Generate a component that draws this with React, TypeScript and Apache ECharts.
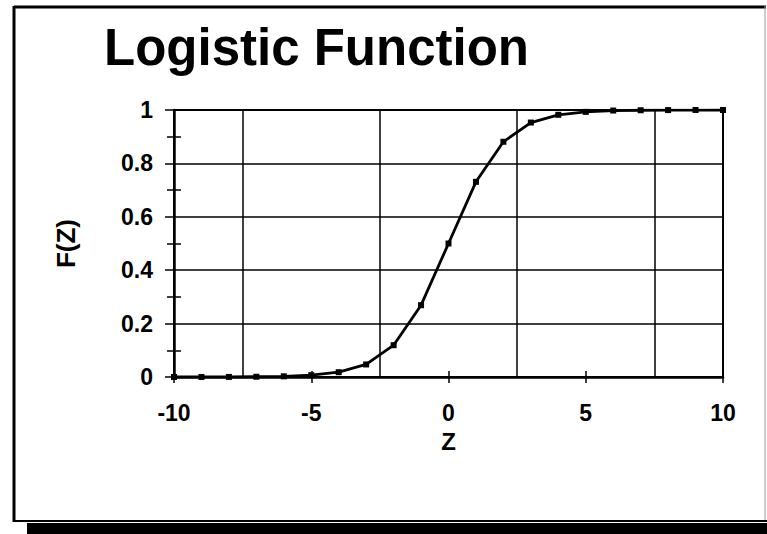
import React, { useEffect, useRef } from "react";
import * as echarts from "echarts";

const zValues = [-10, -9, -8, -7, -6, -5, -4, -3, -2, -1, 0, 1, 2, 3, 4, 5, 6, 7, 8, 9, 10];
const fValues = [0.00005, 0.0001, 0.0003, 0.0009, 0.0025, 0.0067, 0.018, 0.047, 0.119, 0.269, 0.5, 0.731, 0.881, 0.953, 0.982, 0.993, 0.998, 0.999, 0.9997, 0.9999, 1.0];
const titleText = "Logistic Function";
const xName = "Z";
const yName = "F(Z)";

const FONT = "'Liberation Sans', Arial, Helvetica, sans-serif";

export default function App() {
  const ref = useRef<HTMLDivElement>(null);
  useEffect(() => {
    if (!ref.current) return;
    const chart = echarts.init(ref.current, undefined, { renderer: "svg" });
    const data = zValues.map((z, i) => [z, fValues[i]]);
    const baseX = {
      type: "value",
      min: -10,
      max: 10,
      interval: 5,
      position: "bottom",
      axisLine: { onZero: false },
    };
    const baseY = {
      type: "value",
      min: 0,
      max: 1,
      interval: 0.2,
      position: "left",
      axisLine: { onZero: false },
    };
    chart.setOption({
      animation: false,
      backgroundColor: "#ffffff",
      grid: {
        left: 174,
        right: 44,
        top: 110,
        bottom: 157,
        show: true,
        borderColor: "#000",
        borderWidth: 2,
        containLabel: false,
      },
      graphic: [
        { type: "line", shape: { x1: 14, y1: 7, x2: 766, y2: 7 }, style: { stroke: "#000", lineWidth: 3 } },
        { type: "line", shape: { x1: 14, y1: 6, x2: 14, y2: 522 }, style: { stroke: "#000", lineWidth: 3 } },
        { type: "line", shape: { x1: 765, y1: 6, x2: 765, y2: 522 }, style: { stroke: "#999", lineWidth: 1 } },
        { type: "line", shape: { x1: 13, y1: 521, x2: 767, y2: 521 }, style: { stroke: "#000", lineWidth: 2 } },
        { type: "rect", shape: { x: 27, y: 523, width: 740, height: 11 }, style: { fill: "#000" } },
        {
          type: "text",
          left: 104,
          top: 22,
          style: { text: titleText, font: `bold 51px ${FONT}`, fill: "#000" },
        },
      ],
      xAxis: [
        {
          ...baseX,
          name: xName,
          nameLocation: "middle",
          nameGap: 52,
          nameTextStyle: { fontFamily: FONT, fontWeight: "bold", fontSize: 24, color: "#000" },
          axisLine: { onZero: false, lineStyle: { color: "#000", width: 2.5 } },
          axisTick: { show: true, length: 6, lineStyle: { color: "#000", width: 1.5 } },
          axisLabel: { margin: 24, fontFamily: FONT, fontWeight: "bold", fontSize: 23, color: "#000" },
          splitLine: { show: false },
          minorTick: { show: false, splitNumber: 2 },
          minorSplitLine: { show: true, lineStyle: { color: "#000", width: 1.5 } },
        },
        {
          ...baseX,
          axisLine: { show: false, onZero: false },
          axisTick: { show: true, inside: true, length: 6, lineStyle: { color: "#000", width: 1.5 } },
          axisLabel: { show: false },
          splitLine: { show: false },
        },
      ],
      yAxis: [
        {
          ...baseY,
          name: yName,
          nameLocation: "middle",
          nameGap: 95,
          nameRotate: 90,
          nameTextStyle: { fontFamily: FONT, fontWeight: "bold", fontSize: 26, color: "#000" },
          axisLine: { onZero: false, lineStyle: { color: "#000", width: 2.5 } },
          axisTick: { show: true, length: 9, lineStyle: { color: "#000", width: 1.5 } },
          minorTick: { show: true, splitNumber: 2, length: 7, lineStyle: { color: "#000", width: 1.5 } },
          axisLabel: { margin: 21, fontFamily: FONT, fontWeight: "bold", fontSize: 23, color: "#000" },
          splitLine: { show: true, lineStyle: { color: "#000", width: 1.5 } },
        },
        {
          ...baseY,
          axisLine: { show: false, onZero: false },
          axisTick: { show: false, inside: true },
          minorTick: { show: true, splitNumber: 2, length: 7, lineStyle: { color: "#000", width: 1.5 } },
          axisLabel: { show: false },
          splitLine: { show: false },
        },
      ],
      series: [
        {
          type: "line",
          xAxisIndex: 0,
          yAxisIndex: 0,
          data,
          symbol: "rect",
          symbolSize: 6,
          showAllSymbol: true,
          itemStyle: { color: "#000" },
          lineStyle: { color: "#000", width: 2.8 },
          z: 5,
        },
      ],
    });
    return () => chart.dispose();
  }, []);
  return (
    <div
      ref={ref}
      style={{ position: "fixed", left: 0, top: 0, width: 767, height: 534, background: "#fff" }}
    />
  );
}
